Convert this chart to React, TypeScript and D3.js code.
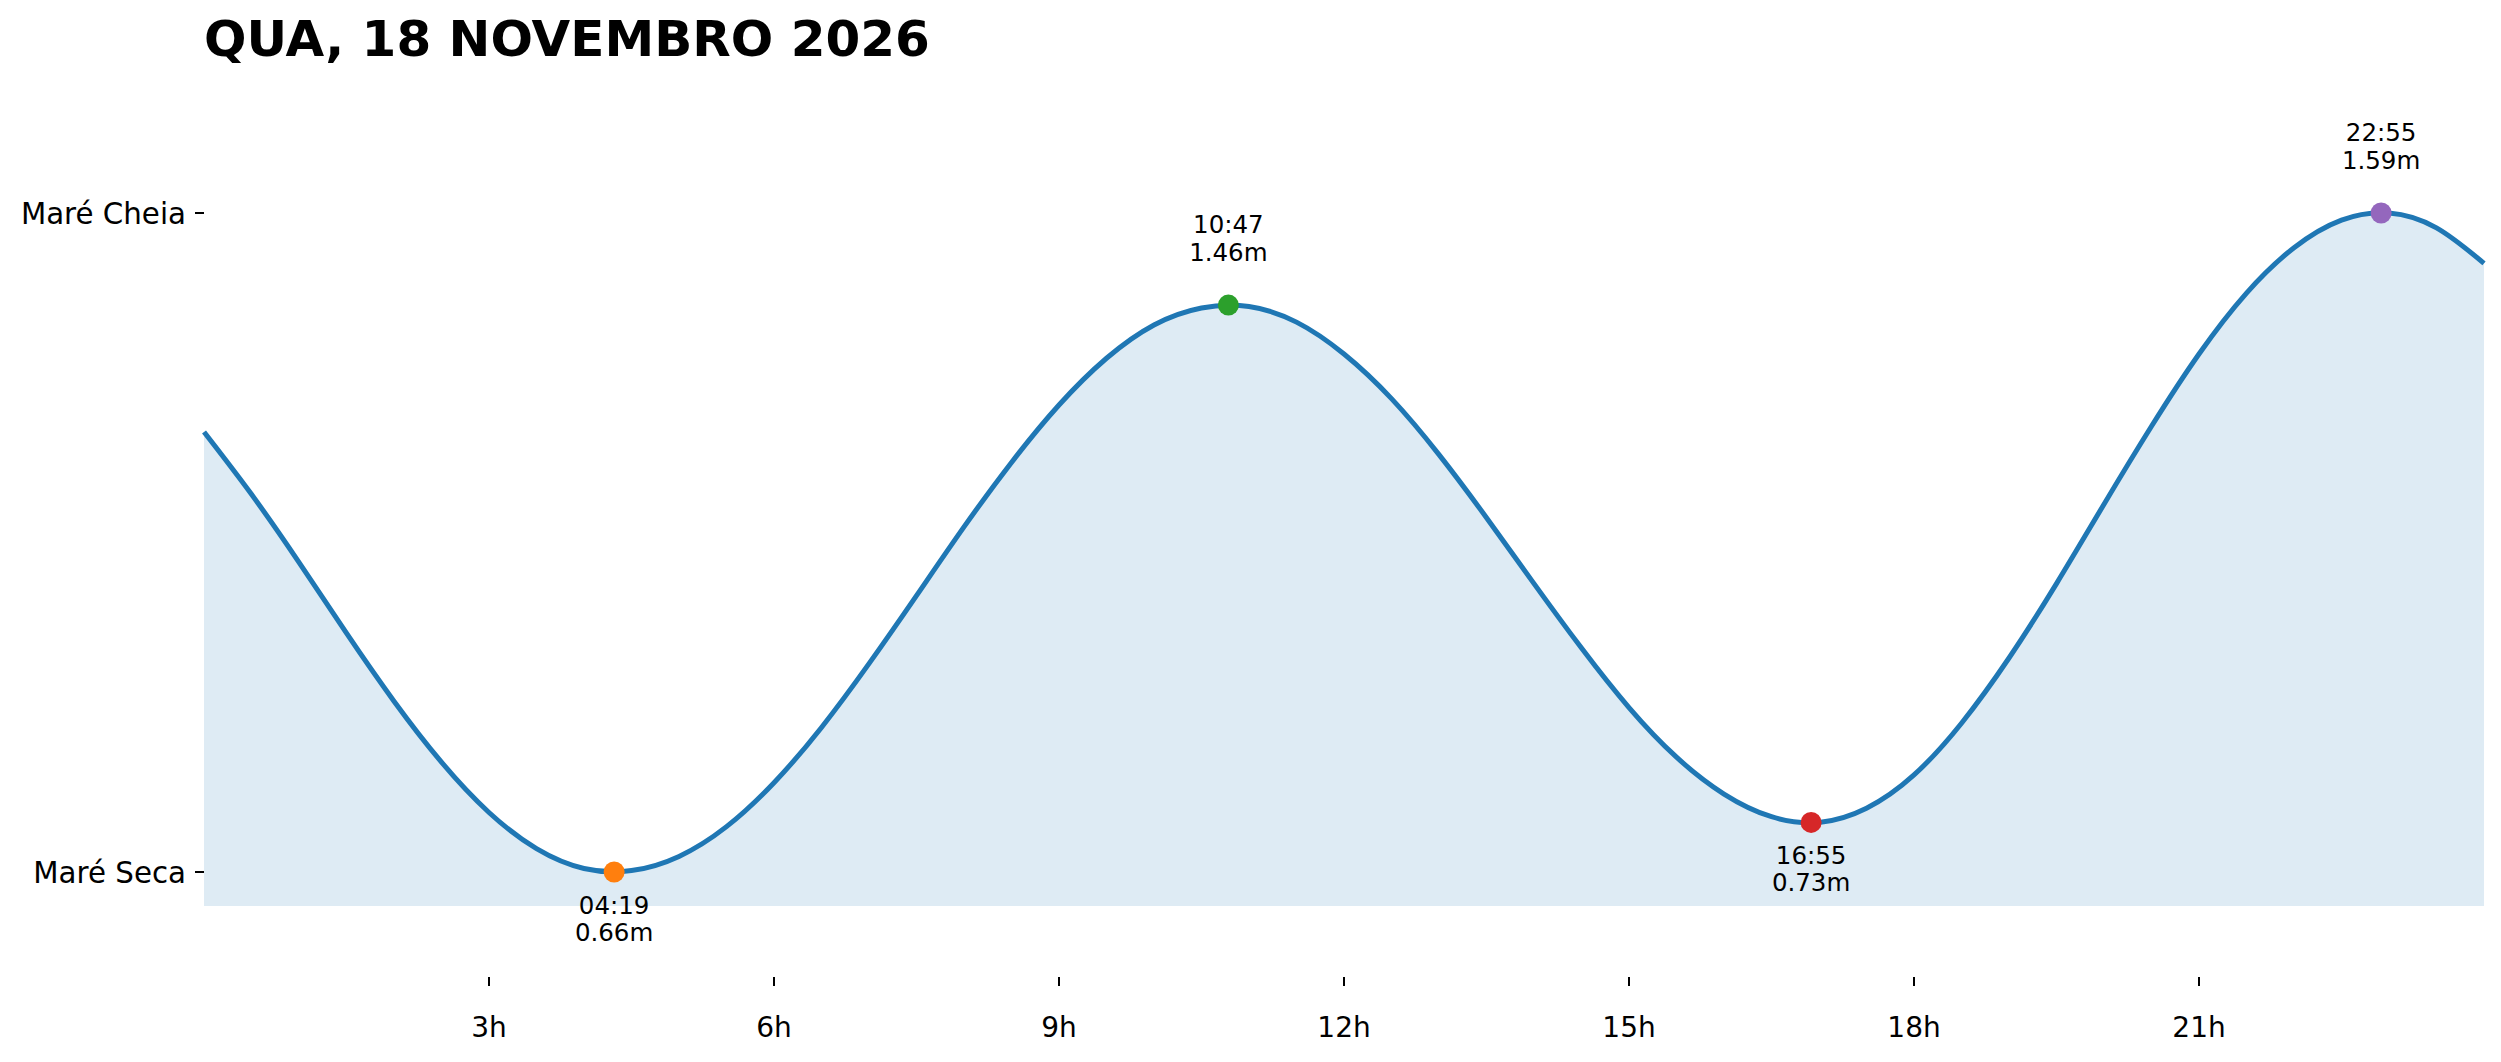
import React from "react";
import * as d3 from "d3";

// ---- data ----
const title = "QUA, 18 NOVEMBRO 2026";
// tide curve samples, every half hour from 00:00 to 24:00 (height in metres)
const curveHours = [
  0, 0.5, 1, 1.5, 2, 2.5, 3, 3.5, 4, 4.5, 5, 5.5, 6, 6.5, 7, 7.5, 8, 8.5, 9, 9.5, 10, 10.5, 11, 11.5, 12,
  12.5, 13, 13.5, 14, 14.5, 15, 15.5, 16, 16.5, 17, 17.5, 18, 18.5, 19, 19.5, 20, 20.5, 21, 21.5, 22, 22.5, 23, 23.5, 24,
];
const curveHeights = [
  1.281, 1.193, 1.097, 0.997, 0.901, 0.815, 0.744, 0.693, 0.665, 0.662, 0.682, 0.724, 0.786, 0.864, 0.954, 1.05, 1.147,
  1.238, 1.319, 1.385, 1.432, 1.456, 1.458, 1.436, 1.391, 1.328, 1.249, 1.16, 1.067, 0.976, 0.892, 0.822, 0.77, 0.738,
  0.73, 0.75, 0.797, 0.87, 0.962, 1.067, 1.179, 1.289, 1.391, 1.477, 1.541, 1.58, 1.59, 1.569, 1.519,
];
// extremes
const extremeHours = [4.317, 10.783, 16.917, 22.917];
const extremeTimes = ["04:19", "10:47", "16:55", "22:55"];
const extremeHeights = [0.66, 1.46, 0.73, 1.59];
const extremeKinds = ["low", "high", "low", "high"];
const extremeColors = ["#ff7f0e", "#2ca02c", "#d62728", "#9467bd"];
// axes
const xTicks = [3, 6, 9, 12, 15, 18, 21];
const xTickLabels = ["3h", "6h", "9h", "12h", "15h", "18h", "21h"];
const yTickValues = [0.66, 1.59];
const yTickLabels = ["Maré Seca", "Maré Cheia"];

const W = 2501;
const H = 1062;
const FONT = "'DejaVu Sans', sans-serif";

export default function App() {
  const x = d3.scaleLinear().domain([0, 24]).range([204, 2484]);
  const y = d3.scaleLinear().domain([0.66, 1.59]).range([872, 213]);
  const axesBottom = 906;
  const xTickTop = 977;

  const pts = curveHours.map((h, i) => [h, curveHeights[i]] as [number, number]);
  const line = d3
    .line<[number, number]>()
    .x((d) => x(d[0]))
    .y((d) => y(d[1]))
    .curve(d3.curveNatural);
  const area = d3
    .area<[number, number]>()
    .x((d) => x(d[0]))
    .y0(axesBottom)
    .y1((d) => y(d[1]))
    .curve(d3.curveNatural);

  return (
    <svg
      width={W}
      height={H}
      viewBox={`0 0 ${W} ${H}`}
      style={{ position: "absolute", left: 0, top: 0, background: "#fff" }}
      fontFamily={FONT}
    >
      <rect x={0} y={0} width={W} height={H} fill="#fff" />
      <text x={204} y={56} fontSize={50} fontWeight="bold" fill="#000">
        {title}
      </text>

      <path d={area(pts) || ""} fill="#1f77b4" fillOpacity={0.15} />
      <path d={line(pts) || ""} fill="none" stroke="#1f77b4" strokeWidth={5} strokeLinejoin="round" />

      {extremeHours.map((h, i) => {
        const cx = x(h);
        const cy = y(extremeHeights[i]);
        const low = extremeKinds[i] === "low";
        const b1 = low ? cy + 41.5 : cy - 72;
        const b2 = b1 + 27.5;
        return (
          <g key={i}>
            <circle cx={cx} cy={cy} r={10.5} fill={extremeColors[i]} />
            <text x={cx} y={b1} fontSize={24.5} textAnchor="middle" fill="#000">
              {extremeTimes[i]}
            </text>
            <text x={cx} y={b2} fontSize={24.5} textAnchor="middle" fill="#000">
              {extremeHeights[i].toFixed(2)}m
            </text>
          </g>
        );
      })}

      {yTickValues.map((v, i) => (
        <g key={"y" + i}>
          <line x1={195} x2={204} y1={y(v)} y2={y(v)} stroke="#000" strokeWidth={2} />
          <text x={186} y={y(v)} dy="0.37em" fontSize={29.3} textAnchor="end" fill="#000">
            {yTickLabels[i]}
          </text>
        </g>
      ))}

      {xTicks.map((t, i) => (
        <g key={"x" + i}>
          <line x1={x(t)} x2={x(t)} y1={xTickTop} y2={xTickTop + 9} stroke="#000" strokeWidth={2} />
          <text x={x(t)} y={1037} fontSize={28} textAnchor="middle" fill="#000">
            {xTickLabels[i]}
          </text>
        </g>
      ))}
    </svg>
  );
}
